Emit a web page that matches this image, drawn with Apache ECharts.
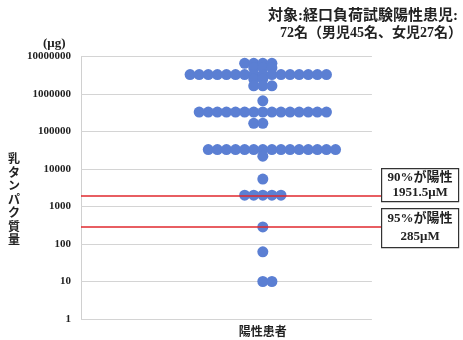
<!DOCTYPE html>
<html>
<head>
<meta charset="utf-8">
<script src="https://cdn.jsdelivr.net/npm/echarts@6/dist/echarts.min.js"></script>
<style>
  html, body { margin: 0; padding: 0; background: #ffffff; }
  #chart { width: 463px; height: 340px; }
</style>
</head>
<body>
<div id="chart"></div>
<script>
// Milk protein dose (μg) at which each positive patient reacted, grouped by level
const doseLevels    = [6600000, 5000000, 3300000, 2500000, 1650000, 660000, 330000, 165000, 33000, 22000, 5400, 2000, 285, 62, 10];
const patientCounts = [4, 3, 16, 2, 3, 1, 15, 2, 15, 1, 1, 5, 1, 1, 2];

// Threshold lines
const thresholdValues = [1951.5, 285];
const thresholdLabels = ['90%が陽性\n1951.5μM', '95%が陽性\n285μM'];

// Y axis ticks (log scale)
const yTickLabels = [1, 10, 100, 1000, 10000, 100000, 1000000, 10000000];

const categoryLabel = '陽性患者';
const titleLines = ['対象:経口負荷試験陽性患児:', '72名（男児45名、女児27名）'];
const yUnit = '(μg)';
const yTitle = '乳タンパク質量';

// Swarm layout: first column slot of each row of dots (one slot = one dot width)
const swarmStart = [-2, -1, -8, -1, -1, 0, -7, -1, -6, 0, 0, -2, 0, 0, 0];
// Horizontal extent of the plot in slots; gridlines stop at plotEnd, threshold lines run to axisEnd
const plotStart = -20, plotEnd = 12, axisEnd = 13;

const points = [];
doseLevels.forEach((v, i) => {
  for (let k = 0; k < patientCounts[i]; k++) {
    points.push([swarmStart[i] + k, v]);
  }
});

const serif = "'Liberation Serif', 'Noto Sans CJK JP', serif";

const chart = echarts.init(document.getElementById('chart'), null, { renderer: 'canvas' });

chart.setOption({
  animation: false,
  backgroundColor: '#ffffff',
  grid: { left: 81, right: 82, top: 56.5, bottom: 21, containLabel: false },
  xAxis: {
    type: 'value',
    min: plotStart,
    max: axisEnd,
    interval: 4,
    axisLine: { show: false },
    axisTick: { show: false },
    splitLine: { show: false },
    axisLabel: {
      margin: 8,
      fontFamily: serif,
      fontSize: 12,
      fontWeight: 'bold',
      color: '#222',
      formatter: v => (v === 0 ? categoryLabel : '')
    }
  },
  yAxis: {
    type: 'log',
    logBase: 10,
    min: yTickLabels[0],
    max: yTickLabels[yTickLabels.length - 1],
    axisLine: { show: true, onZero: false, lineStyle: { color: '#d0d0d0' } },
    axisTick: { show: false },
    splitLine: { show: false },
    axisLabel: {
      margin: 10,
      fontFamily: serif,
      fontSize: 11,
      fontWeight: 'bold',
      color: '#222',
      formatter: v => String(Math.round(v))
    }
  },
  graphic: [
    {
      type: 'text',
      right: 5,
      top: 9,
      style: {
        text: titleLines[0],
        font: "bold 15px 'Liberation Serif', 'Noto Sans CJK JP', serif",
        fill: '#222',
        align: 'right'
      }
    },
    {
      type: 'text',
      right: 1,
      top: 26,
      style: {
        text: titleLines[1],
        font: "bold 14px 'Liberation Serif', 'Noto Sans CJK JP', serif",
        fill: '#222',
        align: 'right'
      }
    },
    {
      type: 'text',
      left: 43,
      top: 37,
      style: {
        text: yUnit,
        font: "bold 13px 'Liberation Serif', serif",
        fill: '#222'
      }
    },
    {
      type: 'text',
      left: 8,
      top: 152,
      style: {
        text: yTitle.split('').join('\n'),
        font: "bold 12px 'Noto Sans CJK JP', sans-serif",
        fill: '#222',
        lineHeight: 13.5,
        align: 'center'
      }
    },
    {
      type: 'group',
      left: 381,
      top: 168,
      children: [
        {
          type: 'rect',
          shape: { x: 0, y: 0, width: 77, height: 33 },
          style: { fill: '#fff', stroke: '#333', lineWidth: 1.2 }
        },
        {
          type: 'text',
          x: 38.5, y: 16.5,
          style: {
            text: thresholdLabels[0],
            font: "bold 13px 'Liberation Serif', 'Noto Sans CJK JP', serif",
            fill: '#222', align: 'center', verticalAlign: 'middle', lineHeight: 15
          }
        }
      ]
    },
    {
      type: 'group',
      left: 381,
      top: 208,
      children: [
        {
          type: 'rect',
          shape: { x: 0, y: 0, width: 77, height: 39 },
          style: { fill: '#fff', stroke: '#333', lineWidth: 1.2 }
        },
        {
          type: 'text',
          x: 38.5, y: 19.5,
          style: {
            text: thresholdLabels[1],
            font: "bold 13px 'Liberation Serif', 'Noto Sans CJK JP', serif",
            fill: '#222', align: 'center', verticalAlign: 'middle', lineHeight: 18
          }
        }
      ]
    }
  ],
  series: [
    {
      // decade gridlines, stopping short of the threshold label column
      type: 'line',
      data: [],
      silent: true,
      markLine: {
        silent: true,
        symbol: ['none', 'none'],
        label: { show: false },
        lineStyle: { color: '#d4d4d4', width: 1, type: 'solid' },
        z: 1,
        data: yTickLabels.map(t => [
          { coord: [plotStart, t] },
          { coord: [plotEnd, t] }
        ])
      }
    },
    {
      type: 'scatter',
      data: points,
      symbol: 'circle',
      symbolSize: 11,
      itemStyle: { color: '#5b7fd3', opacity: 1 },
      clip: false,
      z: 3,
      markLine: {
        silent: true,
        symbol: ['none', 'none'],
        label: { show: false },
        lineStyle: { color: '#e0282e', width: 1.5, type: 'solid' },
        z: 4,
        data: thresholdValues.map(t => [
          { coord: [plotStart, t] },
          { coord: [axisEnd, t] }
        ])
      }
    }
  ]
});
</script>
</body>
</html>
